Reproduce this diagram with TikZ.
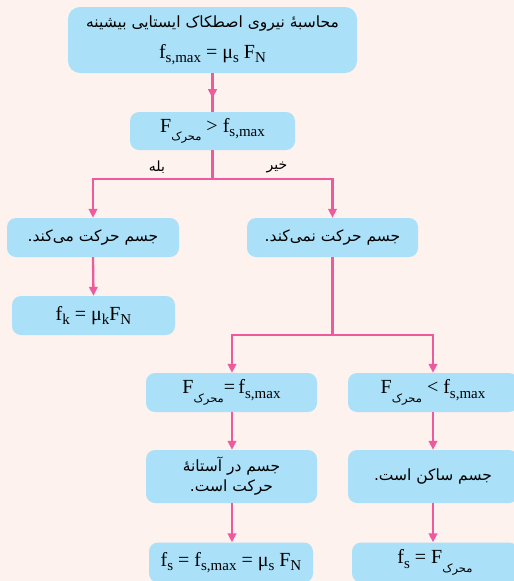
\documentclass[tikz,border=0pt]{standalone}
\usepackage{fontspec}
\setmainfont{Liberation Serif}
\newfontfamily\fa[Script=Arabic]{DejaVu Sans}
\TeXXeTstate=1
\usetikzlibrary{arrows.meta,decorations.markings}
\definecolor{paper}{HTML}{FEF2EE}
\definecolor{boxblue}{HTML}{AAE1F9}
\definecolor{linkpink}{HTML}{EE5A9E}
% Persian text run, right to left
\newcommand\fatx[1]{{\fa\fontsize{15.5}{24}\selectfont\beginR #1\endR}}
% lowered index in the formulas
\newcommand\lo[1]{\raisebox{-0.22em}{\fontsize{15}{15}\selectfont #1}}
% Persian index "moharrek" under F
\newcommand\mh{\raisebox{-0.42em}{\fa\fontsize{11.5}{12}\selectfont\beginR محرک\endR}}
\newcommand\fsmax{f\lo{s,max}}
\begin{document}
\begin{tikzpicture}[x=1pt,y=-1pt,
  box/.style={fill=boxblue, rounded corners=9pt, inner sep=0pt, align=center,
    font=\fontsize{20}{22}\selectfont},
  link/.style={draw=linkpink, line width=2.3pt},
  tip/.tip={Triangle[length=9pt,width=8.5pt]},
  arr/.style={link, -tip},
  midarr/.style={link, postaction={decorate}, decoration={markings,
    mark=at position 25pt with {\arrow{tip}}}},
  tag/.style={inner sep=0pt, font=\fa\fontsize{14}{14}\selectfont}]
\fill[paper] (0,0) rectangle (514,581);
\clip (0,0) rectangle (514,581);

% boxes, top to bottom
\node[box, rounded corners=12pt, minimum width=289pt, minimum height=66pt] (calc) at (212.5,40)
  {\fatx{محاسبهٔ نیروی اصطکاک ایستایی بیشینه}\\[9pt] \fsmax\ = μ\lo{s} F\lo{N}};
\node[box, minimum width=165pt, minimum height=38pt] (test) at (212.5,131)
  {F\mh\ > \fsmax};
\node[box, minimum width=172pt, minimum height=39pt] (moves) at (93,237.5)
  {\fatx{جسم حرکت می‌کند.}};
\node[box, minimum width=171pt, minimum height=39pt] (still) at (332.5,237.5)
  {\fatx{جسم حرکت نمی‌کند.}};
\node[box, minimum width=163pt, minimum height=39pt] (kin) at (93.5,315.5)
  {f\lo{k} = μ\lo{k}F\lo{N}};
\node[box, minimum width=171pt, minimum height=39pt] (eq) at (231.5,392.5)
  {F\mh{}=\,\fsmax};
\node[box, minimum width=170pt, minimum height=39pt] (less) at (433,392.5)
  {F\mh\ < \fsmax};
\node[box, minimum width=171pt, minimum height=53pt] (verge) at (231.5,476.5)
  {\fatx{جسم در آستانهٔ}\\[-2pt] \fatx{حرکت است.}};
\node[box, minimum width=170pt, minimum height=53pt] (rest) at (433,476.5)
  {\fatx{جسم ساکن است.}};
\node[box, minimum width=164pt, minimum height=40pt] (smax) at (231,562.5)
  {f\lo{s} = \fsmax\ = μ\lo{s} F\lo{N}};
\node[box, minimum width=166pt, minimum height=40pt] (sF) at (435,562.5)
  {f\lo{s} = F\mh};

% branch points
\coordinate (split) at (212.5,179);
\coordinate (yesend) at (93,179);
\coordinate (noend) at (332.5,179);
\coordinate (split2) at (332.5,335);
\coordinate (eqend) at (232,335);
\coordinate (lessend) at (433,335);

% connectors
\draw[midarr] (calc.south) -- (test.north);
\draw[link] (test.south) -- (split);
\draw[link, line cap=rect] (yesend) -- (noend);
\draw[arr] (yesend) -- (moves.north);
\draw[arr] (noend) -- (still.north);
\draw[arr] (moves.south) -- (kin.north);
\draw[link] (still.south) -- (split2);
\draw[link, line cap=rect] (eqend) -- (lessend);
\draw[arr] (eqend) -- (eqend |- eq.north);
\draw[arr] (lessend) -- (lessend |- less.north);
\draw[arr] (eqend |- eq.south) -- (eqend |- verge.north);
\draw[arr] (lessend |- less.south) -- (lessend |- rest.north);
\draw[arr] (eqend |- verge.south) -- (eqend |- smax.north);
\draw[arr] (lessend |- rest.south) -- (lessend |- sF.north);

% branch labels
\node[tag] (yes) at (157,167) {\beginR بله\endR};
\node[tag] (no) at (277,167) {\beginR خیر\endR};
\end{tikzpicture}
\end{document}
